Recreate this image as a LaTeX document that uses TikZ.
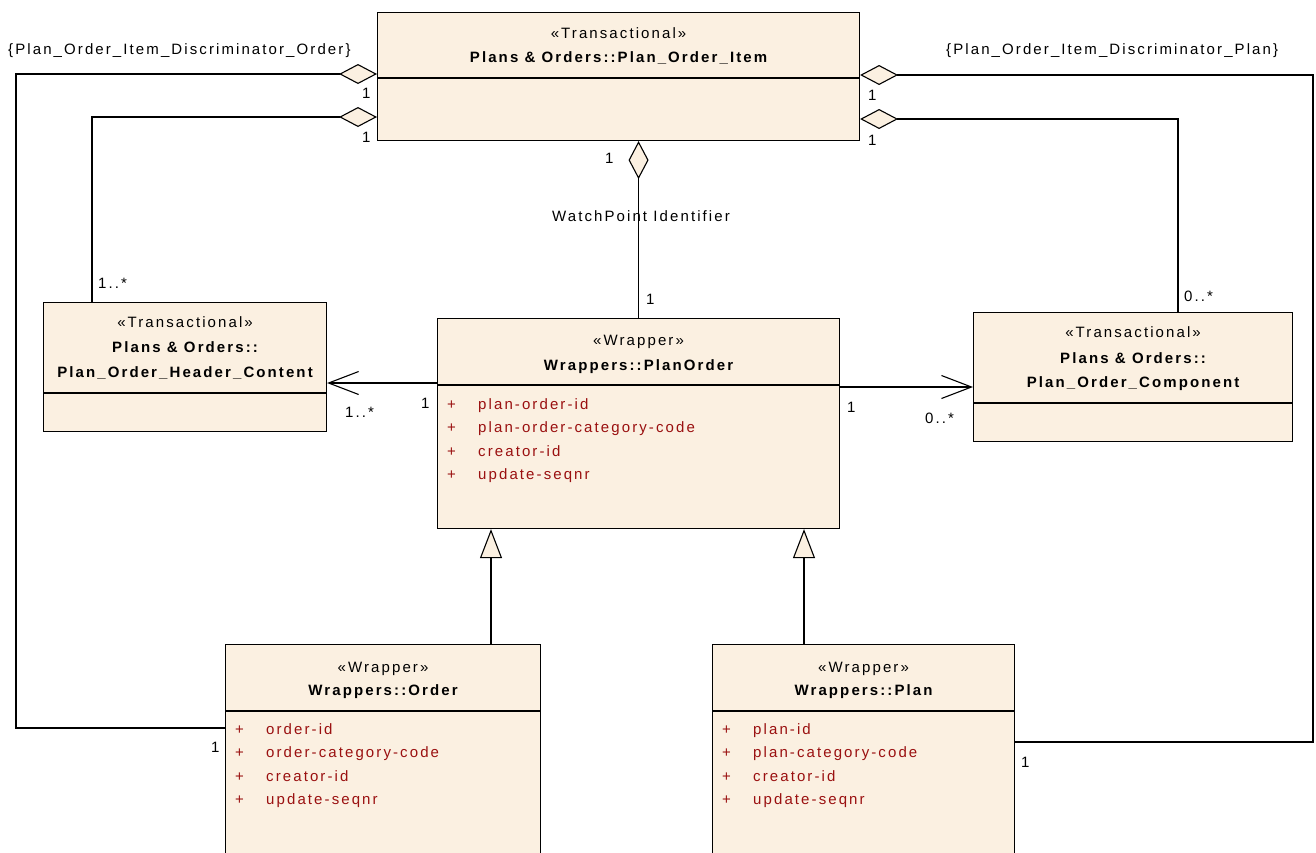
\documentclass[tikz,border=0pt]{standalone}
\usepackage{fontspec}
\setmainfont{Liberation Sans}[LetterSpace=14]
\usetikzlibrary{arrows.meta,calc}
\definecolor{ink}{HTML}{000000}
\definecolor{boxfill}{HTML}{FBF0E1}
\definecolor{attrc}{HTML}{9A1010}
\newcommand{\dgfont}{\fontsize{15pt}{18pt}\selectfont}
\tikzset{cls/.style={draw=ink,fill=boxfill,line width=1.1pt,anchor=north west,inner sep=0pt},
  stereo/.style={anchor=base,inner sep=0pt,font=\dgfont},
  cname/.style={anchor=base,inner sep=0pt,font=\dgfont\bfseries},
  attr/.style={anchor=base west,inner sep=0pt,font=\dgfont,text=attrc},
  mult/.style={anchor=base west,inner sep=0pt,font=\dgfont},
  link/.style={line width=1.1pt,draw=ink},
  agg/.style={link,{Diamond[length=38pt,width=20pt,fill=boxfill]}-},
  nav/.style={link,-{Straight Barb[length=30pt,width=23pt]}},
  gen/.style={link,-{Triangle[length=29pt,width=22pt,fill=boxfill]}}}

\begin{document}
\begin{tikzpicture}[x=1pt,y=-1pt]
\useasboundingbox (0,0) rectangle (1316,852);

% Class boxes.
\node[cls,minimum width=482pt,minimum height=128pt] (item) at (377,12) {};
\node[cls,minimum width=283pt,minimum height=129pt] (hc) at (43,302) {};
\node[cls,minimum width=402pt,minimum height=210pt] (po) at (437,318) {};
\node[cls,minimum width=319pt,minimum height=129pt] (comp) at (973,312) {};
\node[cls,minimum width=315pt,minimum height=240pt] (order) at (225,644) {};
\node[cls,minimum width=302pt,minimum height=240pt] (plan) at (712,644) {};

% Compartment lines.
\foreach \b/\d in {item/66,hc/91,po/67,comp/91,order/67,plan/67}
  \draw[link] ($(\b.north west)+(0,\d)$) -- ($(\b.north east)+(0,\d)$);

% Names and stereotypes.
\node[stereo] (itemS) at ($(item.north)+(0,26)$) {«Transactional»};
\node[cname] (itemN) at ($(item.north)+(0,50)$) {Plans \& Orders::Plan\_Order\_Item};
\node[stereo] (hcS) at ($(hc.north)+(0,25)$) {«Transactional»};
\node[cname] (hcN) at ($(hc.north)+(0,50)$) {Plans \& Orders::};
\node[cname] (hcM) at ($(hc.north)+(0,75)$) {Plan\_Order\_Header\_Content};
\node[stereo] (compS) at ($(comp.north)+(0,25)$) {«Transactional»};
\node[cname] (compN) at ($(comp.north)+(0,51)$) {Plans \& Orders::};
\node[cname] (compM) at ($(comp.north)+(0,75)$) {Plan\_Order\_Component};
\node[stereo] (poS) at ($(po.north)+(0,27)$) {«Wrapper»};
\node[cname] (poN) at ($(po.north)+(0,52)$) {Wrappers::PlanOrder};
\node[stereo] (orderS) at ($(order.north)+(0,28)$) {«Wrapper»};
\node[cname] (orderN) at ($(order.north)+(0,51)$) {Wrappers::Order};
\node[stereo] (planS) at ($(plan.north)+(0,28)$) {«Wrapper»};
\node[cname] (planN) at ($(plan.north)+(0,51)$) {Wrappers::Plan};

% Attributes.
\foreach \a [count=\i] in {plan-order-id,plan-order-category-code,creator-id,update-seqnr}{
  \node[attr] (po-p\i) at ($(po.north west)+(10,67.5+23.5*\i)$) {+};
  \node[attr] (po-a\i) at ($(po.north west)+(41,67.5+23.5*\i)$) {\a};
}
\foreach \a [count=\i] in {order-id,order-category-code,creator-id,update-seqnr}{
  \node[attr] (order-p\i) at ($(order.north west)+(10,66.5+23.5*\i)$) {+};
  \node[attr] (order-a\i) at ($(order.north west)+(41,66.5+23.5*\i)$) {\a};
}
\foreach \a [count=\i] in {plan-id,plan-category-code,creator-id,update-seqnr}{
  \node[attr] (plan-p\i) at ($(plan.north west)+(10,66.5+23.5*\i)$) {+};
  \node[attr] (plan-a\i) at ($(plan.north west)+(41,66.5+23.5*\i)$) {\a};
}

% Rails for the long connectors.
\coordinate (railL) at (16,0);
\coordinate (railR) at (1313,0);
\coordinate (itemL1) at ($(item.north west)+(0,62)$);
\coordinate (itemL2) at ($(item.north west)+(0,105)$);
\coordinate (itemR1) at ($(item.north east)+(0,63)$);
\coordinate (itemR2) at ($(item.north east)+(0,107)$);
\coordinate (orderL) at ($(order.north west)+(0,84)$);
\coordinate (planR) at ($(plan.north east)+(0,98)$);
\coordinate (poL) at ($(po.north west)+(0,65)$);
\coordinate (poR) at ($(po.north east)+(0,69)$);
\coordinate (genO) at ($(order.north west)+(266,0)$);
\coordinate (genP) at ($(plan.north west)+(92,0)$);

% Aggregations on Plan_Order_Item.
\draw[agg] (itemL1) -- (itemL1 -| railL) |- (orderL);
\draw[agg] (itemL2) -| ($(hc.north west)+(49,0)$);
\draw[agg] (itemR1) -- (itemR1 -| railR) |- (planR);
\draw[agg] (itemR2) -| ($(comp.north west)+(205,0)$);
\draw[agg] (po.north |- item.south) -- (po.north);

% Navigable associations.
\draw[nav] (poL) -- (hc.east |- poL);
\draw[nav] (poR) -- (comp.west |- poR);

% Generalizations.
\draw[gen] (genO) -- (genO |- po.south);
\draw[gen] (genP) -- (genP |- po.south);

% Multiplicities and labels.
\node[mult] (discO) at (8,54) {\{Plan\_Order\_Item\_Discriminator\_Order\}};
\node[mult] (discP) at (946,54) {\{Plan\_Order\_Item\_Discriminator\_Plan\}};
\node[mult] (m1) at (362,98) {1};
\node[mult] (m2) at (362,142) {1};
\node[mult] (m3) at (868,100) {1};
\node[mult] (m4) at (868,145) {1};
\node[mult] (m5) at (605,163) {1};
\node[stereo] (watch) at (641,221) {WatchPoint Identifier};
\node[mult] (m6) at (646,304) {1};
\node[mult] (m7) at (98,288) {1..*};
\node[mult] (m8) at (345,417) {1..*};
\node[mult] (m9) at (421,408) {1};
\node[mult] (m10) at (847,412) {1};
\node[mult] (m11) at (925,423) {0..*};
\node[mult] (m12) at (1184,301) {0..*};
\node[mult] (m13) at (211,752) {1};
\node[mult] (m14) at (1021,767) {1};
\end{tikzpicture}
\end{document}
